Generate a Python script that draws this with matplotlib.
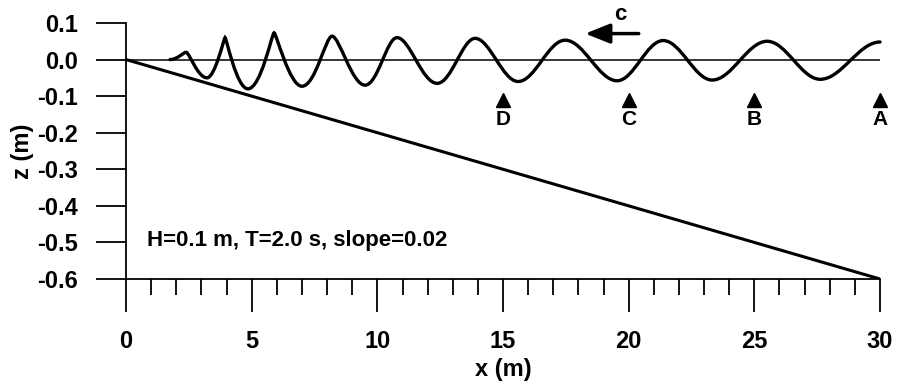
import matplotlib
matplotlib.use("Agg")
import matplotlib.pyplot as plt
from matplotlib.path import Path
import matplotlib.patches as patches

# === Data ===
wave_x = [1.75, 2.39, 3.22, 3.94, 4.85, 5.89, 7.00, 8.20, 9.51, 10.78, 12.38,
          13.89, 15.60, 17.47, 19.54, 21.37, 23.32, 25.51, 27.62, 30.0]
wave_z = [0.0, 0.020, -0.050, 0.060, -0.080, 0.073, -0.073, 0.064, -0.070, 0.060,
          -0.065, 0.058, -0.060, 0.053, -0.058, 0.052, -0.056, 0.050, -0.054, 0.048]

bottom_x = [0, 30]
bottom_z = [0.0, -0.6]
swl_x = [0, 30]
swl_z = [0.0, 0.0]

gauge_x = [15, 20, 25, 30]
gauge_labels = ['D', 'C', 'B', 'A']
gauge_z = -0.11
gauge_label_z = -0.165

info_text = "H=0.1 m, T=2.0 s, slope=0.02"

# how round each extremum is (0 = cusp, ~0.36 = sine-like)
roundness = [0.45, 0.15, 0.45, 0.06, 0.5, 0.08, 0.45, 0.22, 0.4, 0.32, 0.38,
             0.34, 0.36, 0.36, 0.36, 0.36, 0.36, 0.36, 0.36, 0.36]

# === Figure ===
fig = plt.figure(figsize=(8.99, 3.85), dpi=100)
ax = fig.add_axes([0.1402, 0.2753, 0.8387, 0.665])

font = {'family': 'Liberation Sans', 'weight': 'bold'}

# still water level and bottom
ax.plot(swl_x, swl_z, color='black', lw=1.1)
ax.plot(bottom_x, bottom_z, color='black', lw=2.2, solid_capstyle='round')

# wave profile: smooth bezier pieces between crests and troughs
verts = [(wave_x[0], wave_z[0])]
codes = [Path.MOVETO]
for i in range(len(wave_x) - 1):
    dx = wave_x[i + 1] - wave_x[i]
    verts.append((wave_x[i] + roundness[i] * dx, wave_z[i]))
    verts.append((wave_x[i + 1] - roundness[i + 1] * dx, wave_z[i + 1]))
    verts.append((wave_x[i + 1], wave_z[i + 1]))
    codes += [Path.CURVE4] * 3
ax.add_patch(patches.PathPatch(Path(verts, codes), fill=False, lw=2.4,
                               edgecolor='black', capstyle='round', clip_on=False))

# wave gauges
ax.plot(gauge_x, [gauge_z] * len(gauge_x), ls='none', marker='^', ms=10,
        color='black', clip_on=False)
for gx, lab in zip(gauge_x, gauge_labels):
    ax.text(gx, gauge_label_z, lab, ha='center', va='center', fontsize=15, **font)

# propagation direction
ax.annotate('', xy=(18.27, 0.071), xytext=(20.4, 0.071),
            arrowprops=dict(arrowstyle='-|>,head_length=0.75,head_width=0.3',
                            mutation_scale=20, lw=2.5, color='black',
                            shrinkA=0, shrinkB=0))
ax.text(19.66, 0.123, 'c', ha='center', va='center', fontsize=16, **font)

ax.text(0.85, -0.495, info_text, ha='left', va='center', fontsize=16, **font)

# === Axes ===
ax.set_xlim(0, 30)
ax.set_ylim(-0.6, 0.1)
ax.spines['top'].set_visible(False)
ax.spines['right'].set_visible(False)
for s in ['left', 'bottom']:
    ax.spines[s].set_linewidth(1.3)

ax.set_xticks(range(0, 31, 5))
ax.set_xticks([v for v in range(0, 31) if v % 5], minor=True)
ax.set_yticks([0.1, 0.0, -0.1, -0.2, -0.3, -0.4, -0.5, -0.6])
ax.set_yticklabels(['0.1', '0.0', '-0.1', '-0.2', '-0.3', '-0.4', '-0.5', '-0.6'])
ax.tick_params(axis='x', which='major', direction='out', length=24, width=1.3, pad=13)
ax.tick_params(axis='x', which='minor', direction='out', length=11.5, width=1.3)
ax.tick_params(axis='y', which='major', direction='out', length=21.5, width=1.3, pad=13)
for lab in ax.get_xticklabels() + ax.get_yticklabels():
    lab.set_fontsize(17)
    lab.set_fontfamily('Liberation Sans')
    lab.set_fontweight('bold')

ax.set_xlabel('x (m)', fontsize=17, labelpad=3, **font)
ax.set_ylabel('z (m)', fontsize=17, labelpad=2, **font)

fig.savefig('out.png', dpi=100)
